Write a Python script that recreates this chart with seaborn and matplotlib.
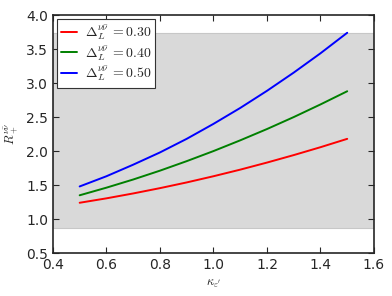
import numpy as np
import pandas as pd
import matplotlib
matplotlib.use("Agg")
import matplotlib.pyplot as plt
import seaborn as sns

# values
kappa = [0.5, 0.6, 0.7, 0.8, 0.9, 1.0, 1.1, 1.2, 1.3, 1.4, 1.5]
r_030 = [1.24, 1.305, 1.377, 1.455, 1.539, 1.63, 1.727, 1.831, 1.941, 2.057, 2.18]
r_040 = [1.35, 1.462, 1.582, 1.712, 1.852, 2.00, 2.158, 2.324, 2.50, 2.686, 2.88]
r_050 = [1.48, 1.63, 1.80, 1.98, 2.18, 2.40, 2.634, 2.886, 3.154, 3.438, 3.74]
deltas = ["0.30", "0.40", "0.50"]
band_low, band_high = 0.87, 3.73

xticks = [0.4, 0.6, 0.8, 1.0, 1.2, 1.4, 1.6]
yticks = [0.5, 1.0, 1.5, 2.0, 2.5, 3.0, 3.5, 4.0]

sns.set_style("ticks")
plt.rcParams["font.family"] = ["DejaVu Sans"]
plt.rcParams["mathtext.fontset"] = "cm"

# long-format table for seaborn
frames = []
for d, vals in zip(deltas, [r_030, r_040, r_050]):
    label = r"$\Delta_L^{\nu\bar\nu}\,{=}%s$" % d
    frames.append(pd.DataFrame({"kappa": kappa, "R": vals, "Delta": label}))
df = pd.concat(frames, ignore_index=True)

fig = plt.figure(figsize=(3.92, 2.96), dpi=100)
ax = fig.add_axes([0.135, 0.145, 0.819, 0.804])

ax.axhspan(band_low, band_high, facecolor="0.85", edgecolor="0.78",
           lw=0.8, zorder=0)

sns.lineplot(
    data=df, x="kappa", y="R", hue="Delta",
    palette=["red", "green", "blue"],
    linewidth=1.4, ax=ax
)

ax.set_xlim(0.4, 1.6)
ax.set_ylim(0.5, 4.0)
ax.set_xticks(xticks)
ax.set_yticks(yticks)
ax.set_xticklabels([f"{t:.1f}" for t in xticks], fontsize=10)
ax.set_yticklabels([f"{t:.1f}" for t in yticks], fontsize=10)
ax.tick_params(direction="in", top=True, right=True, length=4, width=0.8)
for s in ax.spines.values():
    s.set_linewidth(1.2)

ax.set_xlabel(r"$\kappa_{\varepsilon'}$", fontsize=9)
ax.set_ylabel(r"$R_+^{\nu\bar\nu}$", fontsize=9)

leg = ax.legend(loc="upper left", fontsize=10, fancybox=False,
                frameon=True, handlelength=1.1, handletextpad=0.6,
                borderpad=0.3, labelspacing=0.15, borderaxespad=0.3)
leg.get_frame().set_edgecolor("0.2")
leg.get_frame().set_linewidth(0.8)
leg.get_frame().set_alpha(1)

fig.savefig("out.png", dpi=100)
